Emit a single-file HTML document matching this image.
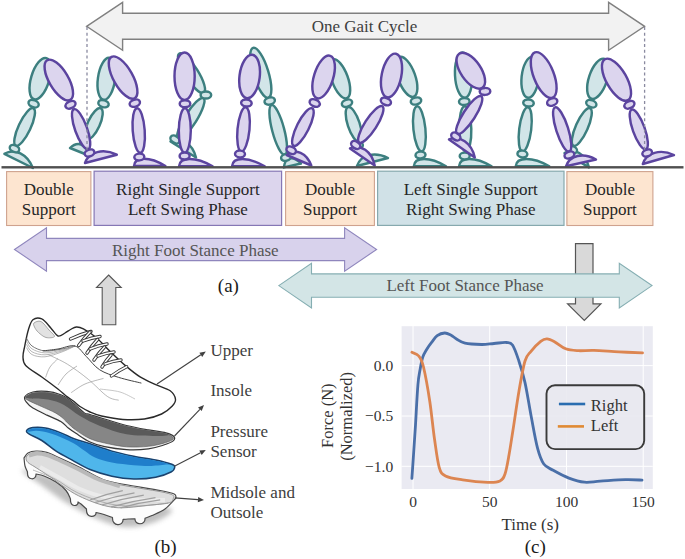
<!DOCTYPE html>
<html><head><meta charset="utf-8">
<style>
html,body{margin:0;padding:0;background:#fff;width:685px;height:559px;overflow:hidden}
svg{display:block;position:absolute;left:0;top:0}
text{font-family:"Liberation Serif",serif}
</style></head>
<body>
<svg width="685" height="559" viewBox="0 0 685 559">
<rect x="0" y="0" width="685" height="559" fill="#ffffff"/>
<path d="M86.6,26.3 L122.6,2.3000000000000007 L122.6,13.3 L608.6,13.3 L608.6,2.3000000000000007 L644.6,26.3 L608.6,50.3 L608.6,39.3 L122.6,39.3 L122.6,50.3 Z" fill="#f2f2f2" stroke="#808080" stroke-width="1.4" stroke-linejoin="miter"/>
<text x="364.5" y="31.8" font-size="17" fill="#404040" text-anchor="middle">One Gait Cycle</text>
<path d="M4.4,153.8 C14.5,147.7 27.4,154.1 32.9,168.0 Z" fill="#d2e5e8" stroke="#3c7f7f" stroke-width="2.45" stroke-linejoin="round"/>
<ellipse cx="40.2" cy="78.7" rx="21.5" ry="9.1" transform="rotate(106.7 40.2 78.7)" fill="#d2e5e8" stroke="#3c7f7f" stroke-width="2.45"/>
<ellipse cx="24.6" cy="127.0" rx="20.7" ry="6.0" transform="rotate(115.2 24.6 127.0)" fill="#d2e5e8" stroke="#3c7f7f" stroke-width="2.45"/>
<ellipse cx="33.6" cy="103.7" rx="5.3" ry="3.5" transform="rotate(201.0 33.6 103.7)" fill="#d2e5e8" stroke="#3c7f7f" stroke-width="2.45"/>
<ellipse cx="14.5" cy="148.6" rx="5.0" ry="3.4" transform="rotate(205.2 14.5 148.6)" fill="#d2e5e8" stroke="#3c7f7f" stroke-width="2.45"/>
<path d="M70.0,148.0 C77.7,140.3 86.7,143.9 90.0,156.0 Z" fill="#d2e5e8" stroke="#3c7f7f" stroke-width="2.45" stroke-linejoin="round"/>
<ellipse cx="106.5" cy="78.8" rx="21.2" ry="8.6" transform="rotate(98.0 106.5 78.8)" fill="#d2e5e8" stroke="#3c7f7f" stroke-width="2.45"/>
<ellipse cx="93.8" cy="123.8" rx="17.0" ry="6.0" transform="rotate(114.4 93.8 123.8)" fill="#d2e5e8" stroke="#3c7f7f" stroke-width="2.45"/>
<ellipse cx="103.5" cy="103.7" rx="5.3" ry="3.5" transform="rotate(196.2 103.5 103.7)" fill="#d2e5e8" stroke="#3c7f7f" stroke-width="2.45"/>
<ellipse cx="85.0" cy="143.0" rx="5.0" ry="3.4" transform="rotate(204.4 85.0 143.0)" fill="#d2e5e8" stroke="#3c7f7f" stroke-width="2.45"/>
<path d="M170.5,141.5 C180.9,136.3 192.4,143.5 196.0,157.5 Z" fill="#d2e5e8" stroke="#3c7f7f" stroke-width="2.45" stroke-linejoin="round"/>
<ellipse cx="191.5" cy="73.2" rx="23.1" ry="6.6" transform="rotate(57.7 191.5 73.2)" fill="#d2e5e8" stroke="#3c7f7f" stroke-width="2.45"/>
<ellipse cx="190.8" cy="118.5" rx="23.9" ry="6.0" transform="rotate(122.0 190.8 118.5)" fill="#d2e5e8" stroke="#3c7f7f" stroke-width="2.45"/>
<ellipse cx="205.9" cy="95.0" rx="5.3" ry="3.5" transform="rotate(179.9 205.9 95.0)" fill="#d2e5e8" stroke="#3c7f7f" stroke-width="2.45"/>
<ellipse cx="175.0" cy="139.5" rx="5.0" ry="3.4" transform="rotate(212.0 175.0 139.5)" fill="#d2e5e8" stroke="#3c7f7f" stroke-width="2.45"/>
<path d="M283.8,167.4 C285.0,156.9 292.8,155.1 301.0,163.5 Z" fill="#d2e5e8" stroke="#3c7f7f" stroke-width="2.45" stroke-linejoin="round"/>
<ellipse cx="260.8" cy="72.8" rx="26.1" ry="7.6" transform="rotate(72.9 260.8 72.8)" fill="#d2e5e8" stroke="#3c7f7f" stroke-width="2.45"/>
<ellipse cx="278.2" cy="129.9" rx="25.7" ry="6.0" transform="rotate(75.1 278.2 129.9)" fill="#d2e5e8" stroke="#3c7f7f" stroke-width="2.45"/>
<ellipse cx="269.7" cy="101.0" rx="5.3" ry="3.5" transform="rotate(164.0 269.7 101.0)" fill="#d2e5e8" stroke="#3c7f7f" stroke-width="2.45"/>
<ellipse cx="286.0" cy="157.4" rx="5.0" ry="3.4" transform="rotate(165.1 286.0 157.4)" fill="#d2e5e8" stroke="#3c7f7f" stroke-width="2.45"/>
<path d="M357.0,166.0 C360.7,154.7 374.7,151.1 388.0,158.0 Z" fill="#d2e5e8" stroke="#3c7f7f" stroke-width="2.45" stroke-linejoin="round"/>
<ellipse cx="339.8" cy="78.8" rx="20.7" ry="8.1" transform="rotate(70.0 339.8 78.8)" fill="#d2e5e8" stroke="#3c7f7f" stroke-width="2.45"/>
<ellipse cx="353.7" cy="124.3" rx="18.0" ry="6.0" transform="rotate(71.8 353.7 124.3)" fill="#d2e5e8" stroke="#3c7f7f" stroke-width="2.45"/>
<ellipse cx="347.0" cy="103.2" rx="5.3" ry="3.5" transform="rotate(160.9 347.0 103.2)" fill="#d2e5e8" stroke="#3c7f7f" stroke-width="2.45"/>
<ellipse cx="358.0" cy="146.0" rx="5.0" ry="3.4" transform="rotate(161.8 358.0 146.0)" fill="#d2e5e8" stroke="#3c7f7f" stroke-width="2.45"/>
<path d="M413.8,166.3 C414.4,156.6 429.9,156.6 446.0,166.3 Z" fill="#d2e5e8" stroke="#3c7f7f" stroke-width="2.45" stroke-linejoin="round"/>
<ellipse cx="406.6" cy="76.8" rx="21.1" ry="8.6" transform="rotate(70.2 406.6 76.8)" fill="#d2e5e8" stroke="#3c7f7f" stroke-width="2.45"/>
<ellipse cx="419.4" cy="128.9" rx="22.7" ry="6.0" transform="rotate(84.1 419.4 128.9)" fill="#d2e5e8" stroke="#3c7f7f" stroke-width="2.45"/>
<ellipse cx="416.0" cy="101.0" rx="5.3" ry="3.5" transform="rotate(167.2 416.0 101.0)" fill="#d2e5e8" stroke="#3c7f7f" stroke-width="2.45"/>
<ellipse cx="420.5" cy="155.0" rx="5.0" ry="3.4" transform="rotate(174.1 420.5 155.0)" fill="#d2e5e8" stroke="#3c7f7f" stroke-width="2.45"/>
<path d="M459.0,166.3 C459.7,156.6 475.3,156.6 491.6,166.3 Z" fill="#d2e5e8" stroke="#3c7f7f" stroke-width="2.45" stroke-linejoin="round"/>
<ellipse cx="463.6" cy="75.1" rx="22.6" ry="8.6" transform="rotate(87.2 463.6 75.1)" fill="#d2e5e8" stroke="#3c7f7f" stroke-width="2.45"/>
<ellipse cx="465.3" cy="128.9" rx="22.6" ry="6.0" transform="rotate(88.5 465.3 128.9)" fill="#d2e5e8" stroke="#3c7f7f" stroke-width="2.45"/>
<ellipse cx="464.3" cy="101.5" rx="5.3" ry="3.5" transform="rotate(177.9 464.3 101.5)" fill="#d2e5e8" stroke="#3c7f7f" stroke-width="2.45"/>
<ellipse cx="464.7" cy="156.0" rx="5.0" ry="3.4" transform="rotate(178.5 464.7 156.0)" fill="#d2e5e8" stroke="#3c7f7f" stroke-width="2.45"/>
<path d="M515.7,166.3 C516.4,156.6 532.5,156.6 549.3,166.3 Z" fill="#d2e5e8" stroke="#3c7f7f" stroke-width="2.45" stroke-linejoin="round"/>
<ellipse cx="530.2" cy="77.3" rx="20.5" ry="8.6" transform="rotate(96.2 530.2 77.3)" fill="#d2e5e8" stroke="#3c7f7f" stroke-width="2.45"/>
<ellipse cx="525.2" cy="129.4" rx="22.3" ry="6.0" transform="rotate(97.1 525.2 129.4)" fill="#d2e5e8" stroke="#3c7f7f" stroke-width="2.45"/>
<ellipse cx="528.5" cy="103.0" rx="5.3" ry="3.5" transform="rotate(186.7 528.5 103.0)" fill="#d2e5e8" stroke="#3c7f7f" stroke-width="2.45"/>
<ellipse cx="522.4" cy="154.0" rx="5.0" ry="3.4" transform="rotate(187.1 522.4 154.0)" fill="#d2e5e8" stroke="#3c7f7f" stroke-width="2.45"/>
<path d="M564.5,153.0 C574.5,147.3 585.5,153.8 589.0,167.4 Z" fill="#d2e5e8" stroke="#3c7f7f" stroke-width="2.45" stroke-linejoin="round"/>
<ellipse cx="598.0" cy="78.8" rx="21.0" ry="9.1" transform="rotate(108.3 598.0 78.8)" fill="#d2e5e8" stroke="#3c7f7f" stroke-width="2.45"/>
<ellipse cx="581.8" cy="127.0" rx="20.5" ry="6.0" transform="rotate(113.9 581.8 127.0)" fill="#d2e5e8" stroke="#3c7f7f" stroke-width="2.45"/>
<ellipse cx="591.3" cy="103.7" rx="5.3" ry="3.5" transform="rotate(201.1 591.3 103.7)" fill="#d2e5e8" stroke="#3c7f7f" stroke-width="2.45"/>
<ellipse cx="572.3" cy="149.6" rx="5.0" ry="3.4" transform="rotate(203.9 572.3 149.6)" fill="#d2e5e8" stroke="#3c7f7f" stroke-width="2.45"/>
<path d="M85.0,163.0 C88.8,151.7 103.2,148.0 116.8,154.7 Z" fill="#dcd5ee" stroke="#5b449f" stroke-width="2.45" stroke-linejoin="round"/>
<ellipse cx="58.8" cy="80.0" rx="22.9" ry="9.6" transform="rotate(59.6 58.8 80.0)" fill="#dcd5ee" stroke="#5b449f" stroke-width="2.45"/>
<ellipse cx="81.1" cy="129.2" rx="21.2" ry="6.0" transform="rotate(70.2 81.1 129.2)" fill="#dcd5ee" stroke="#5b449f" stroke-width="2.45"/>
<ellipse cx="70.5" cy="104.8" rx="5.3" ry="3.5" transform="rotate(154.9 70.5 104.8)" fill="#dcd5ee" stroke="#5b449f" stroke-width="2.45"/>
<ellipse cx="89.5" cy="153.0" rx="5.0" ry="3.4" transform="rotate(160.2 89.5 153.0)" fill="#dcd5ee" stroke="#5b449f" stroke-width="2.45"/>
<path d="M134.0,166.0 C134.6,156.3 149.7,156.3 165.4,166.0 Z" fill="#dcd5ee" stroke="#5b449f" stroke-width="2.45" stroke-linejoin="round"/>
<ellipse cx="123.1" cy="77.6" rx="23.7" ry="9.6" transform="rotate(60.7 123.1 77.6)" fill="#dcd5ee" stroke="#5b449f" stroke-width="2.45"/>
<ellipse cx="138.7" cy="130.5" rx="22.3" ry="6.0" transform="rotate(85.7 138.7 130.5)" fill="#dcd5ee" stroke="#5b449f" stroke-width="2.45"/>
<ellipse cx="134.8" cy="103.2" rx="5.3" ry="3.5" transform="rotate(163.2 134.8 103.2)" fill="#dcd5ee" stroke="#5b449f" stroke-width="2.45"/>
<ellipse cx="139.3" cy="157.0" rx="5.0" ry="3.4" transform="rotate(175.7 139.3 157.0)" fill="#dcd5ee" stroke="#5b449f" stroke-width="2.45"/>
<path d="M179.0,166.3 C179.7,156.6 195.8,156.6 212.6,166.3 Z" fill="#dcd5ee" stroke="#5b449f" stroke-width="2.45" stroke-linejoin="round"/>
<ellipse cx="184.6" cy="76.2" rx="23.7" ry="10.1" transform="rotate(90.0 184.6 76.2)" fill="#dcd5ee" stroke="#5b449f" stroke-width="2.45"/>
<ellipse cx="184.8" cy="130.5" rx="22.2" ry="6.0" transform="rotate(90.5 184.8 130.5)" fill="#dcd5ee" stroke="#5b449f" stroke-width="2.45"/>
<ellipse cx="185.0" cy="103.7" rx="5.3" ry="3.5" transform="rotate(180.3 185.0 103.7)" fill="#dcd5ee" stroke="#5b449f" stroke-width="2.45"/>
<ellipse cx="184.6" cy="156.0" rx="5.0" ry="3.4" transform="rotate(180.5 184.6 156.0)" fill="#dcd5ee" stroke="#5b449f" stroke-width="2.45"/>
<path d="M232.0,166.3 C232.7,156.6 248.3,156.6 264.7,166.3 Z" fill="#dcd5ee" stroke="#5b449f" stroke-width="2.45" stroke-linejoin="round"/>
<ellipse cx="249.6" cy="76.5" rx="21.9" ry="10.1" transform="rotate(97.3 249.6 76.5)" fill="#dcd5ee" stroke="#5b449f" stroke-width="2.45"/>
<ellipse cx="243.5" cy="129.4" rx="22.2" ry="6.0" transform="rotate(95.6 243.5 129.4)" fill="#dcd5ee" stroke="#5b449f" stroke-width="2.45"/>
<ellipse cx="246.4" cy="103.0" rx="5.3" ry="3.5" transform="rotate(186.4 246.4 103.0)" fill="#dcd5ee" stroke="#5b449f" stroke-width="2.45"/>
<ellipse cx="240.0" cy="154.0" rx="5.0" ry="3.4" transform="rotate(185.6 240.0 154.0)" fill="#dcd5ee" stroke="#5b449f" stroke-width="2.45"/>
<path d="M286.7,155.0 C295.5,147.9 306.6,152.7 311.3,165.5 Z" fill="#dcd5ee" stroke="#5b449f" stroke-width="2.45" stroke-linejoin="round"/>
<ellipse cx="323.6" cy="77.0" rx="22.2" ry="9.6" transform="rotate(107.3 323.6 77.0)" fill="#dcd5ee" stroke="#5b449f" stroke-width="2.45"/>
<ellipse cx="302.9" cy="127.0" rx="20.9" ry="6.0" transform="rotate(116.6 302.9 127.0)" fill="#dcd5ee" stroke="#5b449f" stroke-width="2.45"/>
<ellipse cx="314.7" cy="103.0" rx="5.3" ry="3.5" transform="rotate(202.0 314.7 103.0)" fill="#dcd5ee" stroke="#5b449f" stroke-width="2.45"/>
<ellipse cx="291.2" cy="150.2" rx="5.0" ry="3.4" transform="rotate(206.6 291.2 150.2)" fill="#dcd5ee" stroke="#5b449f" stroke-width="2.45"/>
<path d="M350.0,148.4 C360.6,143.6 371.7,151.3 374.7,165.5 Z" fill="#dcd5ee" stroke="#5b449f" stroke-width="2.45" stroke-linejoin="round"/>
<ellipse cx="391.5" cy="75.5" rx="22.2" ry="9.8" transform="rotate(101.5 391.5 75.5)" fill="#dcd5ee" stroke="#5b449f" stroke-width="2.45"/>
<ellipse cx="370.8" cy="124.4" rx="21.5" ry="6.0" transform="rotate(122.6 370.8 124.4)" fill="#dcd5ee" stroke="#5b449f" stroke-width="2.45"/>
<ellipse cx="385.9" cy="101.5" rx="5.3" ry="3.5" transform="rotate(202.0 385.9 101.5)" fill="#dcd5ee" stroke="#5b449f" stroke-width="2.45"/>
<ellipse cx="355.7" cy="145.0" rx="5.0" ry="3.4" transform="rotate(212.6 355.7 145.0)" fill="#dcd5ee" stroke="#5b449f" stroke-width="2.45"/>
<path d="M449.0,139.5 C459.8,134.9 471.5,142.9 474.8,157.4 Z" fill="#dcd5ee" stroke="#5b449f" stroke-width="2.45" stroke-linejoin="round"/>
<ellipse cx="470.8" cy="70.7" rx="20.6" ry="10.1" transform="rotate(55.8 470.8 70.7)" fill="#dcd5ee" stroke="#5b449f" stroke-width="2.45"/>
<ellipse cx="469.2" cy="115.0" rx="22.3" ry="6.0" transform="rotate(122.8 469.2 115.0)" fill="#dcd5ee" stroke="#5b449f" stroke-width="2.45"/>
<ellipse cx="485.0" cy="91.4" rx="5.3" ry="3.5" transform="rotate(179.3 485.0 91.4)" fill="#dcd5ee" stroke="#5b449f" stroke-width="2.45"/>
<ellipse cx="455.8" cy="136.5" rx="5.0" ry="3.4" transform="rotate(212.8 455.8 136.5)" fill="#dcd5ee" stroke="#5b449f" stroke-width="2.45"/>
<path d="M566.0,166.3 C569.8,155.2 583.3,152.2 596.0,159.5 Z" fill="#dcd5ee" stroke="#5b449f" stroke-width="2.45" stroke-linejoin="round"/>
<ellipse cx="543.7" cy="75.1" rx="24.3" ry="10.1" transform="rotate(68.7 543.7 75.1)" fill="#dcd5ee" stroke="#5b449f" stroke-width="2.45"/>
<ellipse cx="562.2" cy="129.4" rx="23.2" ry="6.0" transform="rotate(72.2 562.2 129.4)" fill="#dcd5ee" stroke="#5b449f" stroke-width="2.45"/>
<ellipse cx="552.2" cy="102.0" rx="5.3" ry="3.5" transform="rotate(160.4 552.2 102.0)" fill="#dcd5ee" stroke="#5b449f" stroke-width="2.45"/>
<ellipse cx="569.4" cy="155.0" rx="5.0" ry="3.4" transform="rotate(162.2 569.4 155.0)" fill="#dcd5ee" stroke="#5b449f" stroke-width="2.45"/>
<path d="M642.8,164.0 C646.3,152.6 660.3,148.6 674.0,155.0 Z" fill="#dcd5ee" stroke="#5b449f" stroke-width="2.45" stroke-linejoin="round"/>
<ellipse cx="616.5" cy="79.7" rx="23.5" ry="10.1" transform="rotate(60.4 616.5 79.7)" fill="#dcd5ee" stroke="#5b449f" stroke-width="2.45"/>
<ellipse cx="638.8" cy="129.4" rx="21.1" ry="6.0" transform="rotate(70.3 638.8 129.4)" fill="#dcd5ee" stroke="#5b449f" stroke-width="2.45"/>
<ellipse cx="629.4" cy="104.8" rx="5.3" ry="3.5" transform="rotate(155.3 629.4 104.8)" fill="#dcd5ee" stroke="#5b449f" stroke-width="2.45"/>
<ellipse cx="647.2" cy="153.0" rx="5.0" ry="3.4" transform="rotate(160.3 647.2 153.0)" fill="#dcd5ee" stroke="#5b449f" stroke-width="2.45"/>
<line x1="87" y1="27" x2="87" y2="150" stroke="#8a8aa0" stroke-width="1.3" stroke-dasharray="3 2.7"/>
<line x1="644.6" y1="27" x2="644.6" y2="150" stroke="#8a8aa0" stroke-width="1.3" stroke-dasharray="3 2.7"/>
<rect x="1.5" y="166.1" width="682" height="2.4" fill="#505050"/>
<g font-size="17" fill="#262626" text-anchor="middle">
<rect x="6.6" y="171.6" width="84.3" height="53.9" fill="#fde5d0" stroke="#cfa28e" stroke-width="1.1"/>
<text x="48.75" y="195.2">Double</text><text x="48.75" y="214.7">Support</text>
<rect x="94.1" y="171.2" width="187.5" height="54.2" fill="#dcd5ed" stroke="#8577b5" stroke-width="1.2"/>
<text x="187.9" y="195.2">Right Single Support</text><text x="187.9" y="215.2">Left Swing Phase</text>
<rect x="285.6" y="171.6" width="88.8" height="53.9" fill="#fde5d0" stroke="#cfa28e" stroke-width="1.1"/>
<text x="330" y="195.2">Double</text><text x="330" y="214.7">Support</text>
<rect x="377.6" y="171.2" width="186.4" height="54.2" fill="#d0e1e7" stroke="#86a9ae" stroke-width="1.2"/>
<text x="470.8" y="195.2">Left Single Support</text><text x="470.8" y="215.2">Right Swing Phase</text>
<rect x="566.9" y="171.6" width="86" height="53.9" fill="#fde5d0" stroke="#cfa28e" stroke-width="1.1"/>
<text x="609.9" y="195.2">Double</text><text x="609.9" y="214.7">Support</text>
</g>
<path d="M575.5,243.7 L593,243.7 L593,303.9 L600.9,303.9 L584.3,320.5 L567.6,303.9 L575.5,303.9 Z" fill="#d9d9d9" stroke="#555" stroke-width="1.2"/>
<path d="M14.5,249.5 L46.5,227.9 L46.5,238.4 L344.6,238.4 L344.6,227.9 L376.6,249.5 L344.6,271.1 L344.6,260.6 L46.5,260.6 L46.5,271.1 Z" fill="#d8d2ec" stroke="#8f86bd" stroke-width="1.1" stroke-linejoin="miter"/>
<path d="M278.8,285.6 L311.5,263.20000000000005 L311.5,273.90000000000003 L619.3,273.90000000000003 L619.3,263.20000000000005 L652,285.6 L619.3,308.0 L619.3,297.3 L311.5,297.3 L311.5,308.0 Z" fill="#d3e5e6" stroke="#85aeb2" stroke-width="1.1" stroke-linejoin="miter"/>
<text x="195.3" y="255.6" font-size="17" fill="#555" text-anchor="middle">Right Foot Stance Phase</text>
<text x="465" y="291.3" font-size="17" fill="#555" text-anchor="middle">Left Foot Stance Phase</text>
<text x="228.4" y="291.5" font-size="19" fill="#1a1a1a" text-anchor="middle">(a)</text>
<path d="M108.6,275 L121.2,287.5 L115.8,287.5 L115.8,324.7 L102.2,324.7 L102.2,287.5 L96.5,287.5 Z" fill="#d9d9d9" stroke="#555" stroke-width="1.1"/>
<rect x="401.6" y="326.2" width="251.2" height="162.8" fill="#eaeaf2"/>
<line x1="413.0" y1="326" x2="413.0" y2="489" stroke="#fff" stroke-width="1"/>
<line x1="489.7" y1="326" x2="489.7" y2="489" stroke="#fff" stroke-width="1"/>
<line x1="566.5" y1="326" x2="566.5" y2="489" stroke="#fff" stroke-width="1"/>
<line x1="643.2" y1="326" x2="643.2" y2="489" stroke="#fff" stroke-width="1"/>
<line x1="401.4" y1="365.6" x2="652.8" y2="365.6" stroke="#fff" stroke-width="1"/>
<line x1="401.4" y1="416.0" x2="652.8" y2="416.0" stroke="#fff" stroke-width="1"/>
<line x1="401.4" y1="466.3" x2="652.8" y2="466.3" stroke="#fff" stroke-width="1"/>
<path d="M411.9,478.3 C412.2,474.4 412.9,463.9 413.5,455.0 C414.1,446.1 414.8,436.7 415.5,425.0 C416.2,413.3 417.1,394.2 417.9,385.0 C418.6,375.8 419.2,374.6 420.0,370.0 C420.8,365.4 421.6,360.6 422.7,357.2 C423.8,353.8 425.0,352.2 426.5,349.7 C428.0,347.2 430.0,344.5 431.8,342.2 C433.6,339.9 435.1,337.2 437.2,335.7 C439.3,334.2 442.4,333.1 444.7,333.0 C447.0,332.9 449.1,334.2 451.1,335.2 C453.1,336.2 454.2,337.7 456.5,339.0 C458.8,340.3 460.8,342.3 465.0,343.2 C469.2,344.1 476.7,344.4 481.5,344.5 C486.3,344.6 489.9,343.8 494.0,343.5 C498.1,343.2 503.2,342.2 506.3,342.5 C509.4,342.8 510.4,342.0 512.5,345.0 C514.6,348.0 516.7,354.4 518.8,360.7 C520.9,367.0 522.9,373.2 525.0,382.6 C527.1,392.0 529.2,406.0 531.3,417.0 C533.4,428.0 535.5,440.6 537.6,448.4 C539.7,456.2 541.2,460.4 543.8,464.0 C546.4,467.6 549.0,467.9 553.2,470.3 C557.4,472.7 563.7,476.1 568.9,478.1 C574.1,480.1 579.3,481.7 584.5,482.2 C589.7,482.7 593.4,481.6 600.2,481.2 C607.0,480.8 618.2,479.9 625.2,479.7 C632.2,479.5 639.2,480.0 642.0,480.1" fill="none" stroke="#4a6fa8" stroke-width="2.8" stroke-linecap="round" stroke-linejoin="round"/>
<path d="M411.9,352.3 C413.0,352.9 416.9,353.6 418.8,356.0 C420.7,358.4 421.7,359.4 423.5,367.0 C425.3,374.6 428.0,389.5 429.8,401.5 C431.6,413.5 432.9,428.0 434.5,439.0 C436.1,450.0 437.4,461.1 439.2,467.3 C441.0,473.5 441.6,473.9 445.5,476.0 C449.4,478.1 455.6,478.8 462.7,479.9 C469.8,481.0 481.6,482.2 487.8,482.4 C494.0,482.6 497.1,482.4 500.0,481.0 C502.9,479.6 503.5,478.3 505.0,474.0 C506.5,469.7 507.7,462.3 509.0,455.0 C510.3,447.7 511.3,440.7 513.0,430.0 C514.7,419.3 517.0,402.5 519.0,391.0 C521.0,379.5 523.0,367.6 525.0,361.0 C527.0,354.4 528.4,354.6 531.0,351.3 C533.6,348.0 538.0,343.4 540.7,341.3 C543.4,339.2 544.6,338.7 547.0,338.8 C549.4,338.9 551.7,340.2 554.8,341.9 C557.9,343.6 561.8,347.3 565.7,348.8 C569.6,350.3 573.6,350.4 578.3,350.7 C583.0,351.0 587.1,350.2 593.9,350.4 C600.7,350.6 610.9,351.5 619.0,351.9 C627.1,352.3 638.6,352.7 642.5,352.9" fill="none" stroke="#dc8551" stroke-width="2.8" stroke-linecap="round" stroke-linejoin="round"/>
<rect x="546.5" y="385.3" width="97.7" height="63.8" rx="8.5" fill="#e9e9ef" fill-opacity="0.9" stroke="#3a3a3a" stroke-width="1.9"/>
<line x1="558.9" y1="404" x2="585.2" y2="404" stroke="#2a6db0" stroke-width="2.6"/>
<line x1="557.8" y1="426.4" x2="584" y2="426.4" stroke="#e08a33" stroke-width="2.6"/>
<g font-size="16.5" fill="#333"><text x="590.8" y="411.2">Right</text><text x="590.8" y="431.3">Left</text></g>
<g font-size="15.5" fill="#333" text-anchor="end">
<text x="393.2" y="370.9">0.0</text>
<text x="393.2" y="421.3">−0.5</text>
<text x="393.2" y="471.6">−1.0</text>
</g><g font-size="15.5" fill="#333" text-anchor="middle">
<text x="413.0" y="506.7">0</text>
<text x="489.7" y="506.7">50</text>
<text x="566.5" y="506.7">100</text>
<text x="643.2" y="506.7">150</text>
</g>
<text x="530.3" y="529.5" font-size="17" fill="#333" text-anchor="middle">Time (s)</text>
<text x="535.3" y="552.8" font-size="19" fill="#1a1a1a" text-anchor="middle">(c)</text>
<text transform="translate(333,415.7) rotate(-90)" font-size="16.5" fill="#333" text-anchor="middle">Force (N)</text>
<text transform="translate(352.3,416.4) rotate(-90)" font-size="16.5" fill="#333" text-anchor="middle">(Normalized)</text>
<defs><filter id="blur" x="-30%" y="-60%" width="160%" height="220%"><feGaussianBlur stdDeviation="2.6"/></filter></defs>
<path d="M22.0,470.0 C19.5,471.0 32.8,478.7 40.0,484.0 C47.2,489.3 55.8,496.3 65.0,502.0 C74.2,507.7 85.0,513.8 95.0,518.0 C105.0,522.2 115.0,526.3 125.0,527.0 C135.0,527.7 147.2,524.8 155.0,522.0 C162.8,519.2 172.8,512.8 172.0,510.0 C171.2,507.2 162.0,507.5 150.0,505.0 C138.0,502.5 115.8,499.5 100.0,495.0 C84.2,490.5 68.0,482.2 55.0,478.0 C42.0,473.8 24.5,469.0 22.0,470.0 Z" fill="#b4b4b4" opacity="0.85" filter="url(#blur)"/>
<path d="M32.9,319.8 C35.1,318.0 38.8,317.5 41.8,318.9 C44.8,320.2 48.1,325.0 50.8,327.9 C53.5,330.8 55.6,335.1 58.0,336.0 C60.4,336.9 62.9,334.1 65.0,333.0 C67.1,331.9 68.6,330.5 70.5,329.5 C72.4,328.5 74.2,327.1 76.4,327.0 C78.6,326.9 80.1,327.1 83.4,328.8 C86.7,330.6 91.7,333.7 96.2,337.5 C100.7,341.3 105.3,346.8 110.2,351.5 C115.1,356.2 120.4,361.4 125.4,365.6 C130.4,369.8 135.2,373.8 140.1,376.9 C145.0,380.0 150.1,382.1 155.1,384.4 C160.1,386.7 166.8,388.3 170.2,390.8 C173.6,393.3 175.2,396.9 175.5,399.4 C175.8,401.9 174.6,403.5 172.3,405.9 C170.0,408.3 166.2,411.8 161.6,414.0 C156.9,416.2 150.8,418.1 144.4,419.0 C138.0,419.9 130.1,420.0 122.9,419.5 C115.8,419.0 107.0,417.2 101.5,416.0 C96.0,414.8 93.6,413.6 90.0,412.0 C86.4,410.4 82.7,408.2 80.0,406.5 C77.3,404.8 76.4,403.3 74.0,401.5 C71.6,399.7 68.5,397.9 65.8,395.8 C63.1,393.7 61.9,392.1 57.9,389.0 C53.9,385.9 47.2,380.9 41.8,377.0 C36.4,373.1 28.8,368.9 25.7,365.5 C22.6,362.1 23.1,359.8 23.0,356.5 C22.9,353.2 23.9,350.3 24.8,345.8 C25.7,341.3 27.0,334.0 28.4,329.7 C29.8,325.4 30.7,321.6 32.9,319.8 Z" fill="#ffffff" stroke="#2a2a2a" stroke-width="1.4"/>
<path d="M34.0,323.0 C35.1,322.1 38.5,320.3 41.0,321.5 C43.5,322.7 46.8,327.5 49.0,330.0 C51.2,332.5 55.0,335.2 54.5,336.5 C54.0,337.8 48.7,338.2 46.0,337.5 C43.3,336.8 40.4,334.2 38.5,332.5 C36.6,330.8 35.2,328.6 34.5,327.0 C33.8,325.4 32.9,323.9 34.0,323.0 Z" fill="#e2e2e2" stroke="#888" stroke-width="0.7"/>
<path d="M26.5,338.0 C27.4,339.3 28.9,343.8 32.0,346.0 C35.1,348.2 40.0,350.5 45.0,351.0 C50.0,351.5 57.0,349.8 62.0,349.0 C67.0,348.2 72.8,346.5 75.0,346.0" fill="none" stroke="#666" stroke-width="0.9"/>
<path d="M26.5,341.2 C27.4,342.5 28.9,346.9 32.0,348.9 C35.1,350.8 40.0,352.7 45.0,352.9 C50.0,353.1 57.0,351.1 62.0,350.0 C67.0,348.8 72.8,346.7 75.0,346.0" fill="none" stroke="#9a9a9a" stroke-width="0.7"/>
<path d="M26.5,344.4 C27.4,345.6 28.9,350.0 32.0,351.8 C35.1,353.5 40.0,355.0 45.0,354.8 C50.0,354.7 57.0,352.4 62.0,350.9 C67.0,349.4 72.8,346.8 75.0,346.0" fill="none" stroke="#9a9a9a" stroke-width="0.7"/>
<path d="M26.5,347.6 C27.4,348.8 28.9,353.1 32.0,354.6 C35.1,356.2 40.0,357.2 45.0,356.8 C50.0,356.3 57.0,353.7 62.0,351.9 C67.0,350.1 72.8,347.0 75.0,346.0" fill="none" stroke="#9a9a9a" stroke-width="0.7"/>
<path d="M42.8,350.9 C45.3,350.6 52.6,349.8 58.0,349.0 C63.4,348.2 70.3,344.7 75.0,346.0 C79.7,347.3 82.3,352.6 86.4,356.6 C90.5,360.6 94.3,366.3 99.7,369.8 C105.1,373.3 111.8,375.2 118.7,377.4 C125.7,379.6 137.6,382.2 141.4,383.1" fill="none" stroke="#444" stroke-width="1.0"/>
<path d="M48.5,354.7 C51.6,356.3 60.8,360.1 67.4,364.2 C74.0,368.3 81.7,373.9 88.3,379.3 C94.9,384.7 102.2,392.9 107.3,396.4 C112.4,399.9 116.8,399.6 118.7,400.2" fill="none" stroke="#999" stroke-width="0.7"/>
<path d="M45.6,377.4 C46.3,375.7 47.9,370.1 50.0,367.0 C52.1,363.9 56.7,359.9 58.0,358.5" fill="none" stroke="#9a9a9a" stroke-width="0.7"/>
<path d="M58.0,385.0 C59.3,383.2 62.8,377.2 66.0,374.0 C69.2,370.8 75.2,367.3 77.0,366.0" fill="none" stroke="#9a9a9a" stroke-width="0.7"/>
<path d="M71.2,392.6 C73.5,391.2 79.6,386.4 85.0,384.0 C90.4,381.6 100.4,379.3 103.5,378.4" fill="none" stroke="#9a9a9a" stroke-width="0.7"/>
<path d="M100.0,389.0 C103.3,389.5 114.2,390.3 120.0,392.0 C125.8,393.7 132.5,397.8 135.0,399.0" fill="none" stroke="#b0b0b0" stroke-width="0.7"/>
<path d="M70.5,339 Q80.8,334.1 91,331.5" fill="none" stroke="#353535" stroke-width="3.4" stroke-linecap="round"/>
<path d="M70.5,339 Q80.8,334.1 91,331.5" fill="none" stroke="#fff" stroke-width="1.6" stroke-linecap="round"/>
<path d="M78.7,345.5 Q84.3,337.6 90,332" fill="none" stroke="#353535" stroke-width="3.4" stroke-linecap="round"/>
<path d="M78.7,345.5 Q84.3,337.6 90,332" fill="none" stroke="#fff" stroke-width="1.6" stroke-linecap="round"/>
<path d="M83,341 Q91.5,337.6 100,336.5" fill="none" stroke="#353535" stroke-width="3.4" stroke-linecap="round"/>
<path d="M83,341 Q91.5,337.6 100,336.5" fill="none" stroke="#fff" stroke-width="1.6" stroke-linecap="round"/>
<path d="M87,353 Q92.2,345.1 97.5,339.5" fill="none" stroke="#353535" stroke-width="3.4" stroke-linecap="round"/>
<path d="M87,353 Q92.2,345.1 97.5,339.5" fill="none" stroke="#fff" stroke-width="1.6" stroke-linecap="round"/>
<path d="M90,349 Q98.5,345.3 107,344" fill="none" stroke="#353535" stroke-width="3.4" stroke-linecap="round"/>
<path d="M90,349 Q98.5,345.3 107,344" fill="none" stroke="#fff" stroke-width="1.6" stroke-linecap="round"/>
<path d="M94,360 Q99.2,352.3 104.5,347" fill="none" stroke="#353535" stroke-width="3.4" stroke-linecap="round"/>
<path d="M94,360 Q99.2,352.3 104.5,347" fill="none" stroke="#fff" stroke-width="1.6" stroke-linecap="round"/>
<path d="M98,356 Q106.0,352.8 114,352" fill="none" stroke="#353535" stroke-width="3.4" stroke-linecap="round"/>
<path d="M98,356 Q106.0,352.8 114,352" fill="none" stroke="#fff" stroke-width="1.6" stroke-linecap="round"/>
<path d="M102,367 Q106.5,359.8 111,355" fill="none" stroke="#353535" stroke-width="3.4" stroke-linecap="round"/>
<path d="M102,367 Q106.5,359.8 111,355" fill="none" stroke="#fff" stroke-width="1.6" stroke-linecap="round"/>
<path d="M105,364 Q113.0,360.8 121,360" fill="none" stroke="#353535" stroke-width="3.4" stroke-linecap="round"/>
<path d="M105,364 Q113.0,360.8 121,360" fill="none" stroke="#fff" stroke-width="1.6" stroke-linecap="round"/>
<path d="M111.4,376 Q119.0,370.2 126.6,366.7" fill="none" stroke="#353535" stroke-width="3.4" stroke-linecap="round"/>
<path d="M111.4,376 Q119.0,370.2 126.6,366.7" fill="none" stroke="#fff" stroke-width="1.6" stroke-linecap="round"/>
<path d="M24.8,396.8 C25.9,395.1 29.2,392.9 32.9,392.0 C36.6,391.1 42.2,390.9 46.9,391.4 C51.5,391.8 57.2,393.4 60.8,394.7 C64.4,396.0 65.8,397.2 68.3,399.0 C70.8,400.8 73.2,403.1 75.9,405.4 C78.6,407.7 82.1,411.4 84.4,412.9 C86.8,414.4 86.6,413.5 90.0,414.5 C93.4,415.5 98.5,417.2 104.6,419.0 C110.7,420.8 119.2,423.7 126.5,425.5 C133.8,427.3 141.8,428.7 148.4,429.9 C155.0,431.1 161.7,431.7 165.9,432.8 C170.2,433.9 172.7,435.1 173.9,436.5 C175.1,437.9 175.0,439.4 173.2,440.9 C171.4,442.4 167.1,444.0 163.0,445.3 C158.9,446.6 154.5,448.2 148.4,448.9 C142.3,449.6 133.8,450.0 126.5,449.6 C119.2,449.2 110.7,448.0 104.6,446.7 C98.5,445.4 94.8,444.2 90.0,442.0 C85.2,439.8 79.5,435.6 75.9,433.3 C72.3,431.0 70.8,430.0 68.3,428.0 C65.8,426.0 64.4,423.6 60.8,421.5 C57.2,419.4 51.5,417.3 46.9,415.1 C42.2,412.9 36.3,410.2 32.9,408.1 C29.5,406.0 27.8,404.1 26.4,402.2 C25.0,400.3 23.7,398.5 24.8,396.8 Z" fill="#f4f4f4" stroke="#383838" stroke-width="1.2"/>
<path d="M25.9,397.0 C26.8,395.8 29.4,393.8 32.9,393.0 C36.4,392.2 42.2,392.0 46.9,392.4 C51.5,392.8 57.2,394.4 60.8,395.6 C64.4,396.8 65.8,398.0 68.3,399.8 C70.8,401.6 73.2,403.9 75.9,406.2 C78.6,408.5 82.1,412.1 84.4,413.6 C86.8,415.1 86.6,414.3 90.0,415.3 C93.4,416.3 98.5,418.0 104.6,419.8 C110.7,421.6 119.2,424.5 126.5,426.3 C133.8,428.1 141.9,429.4 148.4,430.6 C154.9,431.8 161.4,432.5 165.5,433.6 C169.6,434.7 171.7,435.9 172.8,437.0 C173.9,438.1 173.6,438.9 172.0,440.0 C170.4,441.1 166.9,442.3 163.0,443.4 C159.1,444.4 154.5,445.7 148.4,446.3 C142.3,446.9 133.8,447.4 126.5,446.8 C119.2,446.2 110.7,444.4 104.6,443.0 C98.5,441.6 94.8,440.8 90.0,438.7 C85.2,436.6 79.5,432.6 75.9,430.1 C72.3,427.6 70.5,425.7 68.3,423.7 C66.1,421.7 65.2,420.1 63.0,418.3 C60.9,416.5 59.0,414.9 55.4,412.9 C51.8,410.9 46.1,408.6 41.5,406.5 C36.9,404.4 30.1,401.6 27.5,400.0 C24.9,398.4 25.0,398.2 25.9,397.0 Z" fill="#868686" stroke="#555" stroke-width="0.6"/>
<path d="M25.9,397.0 C26.4,396.1 29.4,393.8 32.9,393.0 C36.4,392.2 42.2,392.0 46.9,392.4 C51.5,392.8 57.2,394.4 60.8,395.6 C64.4,396.8 65.8,398.0 68.3,399.8 C70.8,401.6 73.2,403.9 75.9,406.2 C78.6,408.5 82.1,412.1 84.4,413.6 C86.8,415.1 86.6,414.3 90.0,415.3 C93.4,416.3 98.5,418.0 104.6,419.8 C110.7,421.6 119.2,424.5 126.5,426.3 C133.8,428.1 141.9,429.4 148.4,430.6 C154.9,431.8 162.2,432.8 165.5,433.6 C168.8,434.4 169.6,434.9 168.0,435.3 C166.4,435.7 162.6,436.2 155.7,436.0 C148.8,435.8 135.8,436.0 126.5,434.3 C117.2,432.6 107.8,429.1 100.0,426.0 C92.2,422.9 86.0,419.5 80.0,416.0 C74.0,412.5 69.3,407.8 64.0,405.0 C58.7,402.2 53.7,400.6 48.0,399.5 C42.3,398.4 33.7,398.9 30.0,398.5 C26.3,398.1 25.4,397.9 25.9,397.0 Z" fill="#5a5a5a"/>
<path d="M24.0,458.0 C24.7,457.2 26.0,454.2 28.0,453.0 C30.0,451.8 33.0,451.1 36.1,451.0 C39.2,450.9 43.2,451.4 46.8,452.4 C50.4,453.4 52.2,454.7 57.6,457.1 C63.0,459.5 71.3,463.2 79.0,467.0 C86.7,470.8 95.9,476.9 103.6,479.8 C111.3,482.7 115.7,482.7 125.1,484.5 C134.5,486.3 152.0,488.9 160.2,490.5 C168.4,492.1 171.6,492.8 174.2,494.0 C176.8,495.2 175.7,497.3 176.0,498.0 C174.2,499.8 169.0,506.1 165.0,509.0 C161.0,511.9 155.3,514.0 152.0,515.5 C148.7,517.0 146.2,517.8 145.0,518.3 C145.6,525.6 134.4,525.4 135.0,518.8 C133.8,518.8 130.0,518.9 128.0,519.0 C126.0,519.1 123.8,519.4 123.0,519.5 C123.6,526.3 111.9,526.9 112.5,517.5 C111.1,517.0 106.8,515.3 104.0,514.5 C101.2,513.7 97.3,512.8 96.0,512.5 C96.6,517.6 85.9,518.7 86.5,509.0 C85.6,508.2 82.4,505.2 81.0,504.0 C79.6,502.8 78.5,502.3 78.0,502.0 C78.6,506.7 69.9,507.6 70.5,499.0 C69.8,497.6 68.4,493.3 66.0,490.5 C63.6,487.7 59.7,484.4 56.0,482.0 C52.3,479.6 47.3,477.3 44.0,476.0 C40.7,474.7 37.3,474.3 36.0,474.0 C36.6,480.4 26.9,481.0 27.5,472.0 C27.1,471.0 25.6,468.3 25.0,466.0 C24.4,463.7 24.2,459.3 24.0,458.0 Z" fill="#fcfcfc" stroke="#4a4a4a" stroke-width="1.2" stroke-linejoin="round"/>
<path d="M26.0,458.0 C26.2,456.6 27.3,455.1 29.0,454.2 C30.7,453.2 33.1,452.4 36.1,452.3 C39.1,452.2 43.2,452.6 46.8,453.6 C50.4,454.6 52.2,455.8 57.6,458.2 C63.0,460.6 71.3,464.2 79.0,468.0 C86.7,471.8 95.9,478.1 103.6,481.0 C111.3,483.9 115.7,483.9 125.1,485.7 C134.5,487.5 152.3,490.1 160.2,491.6 C168.1,493.2 170.3,493.9 172.5,495.0 C174.7,496.1 174.0,496.7 173.5,498.0 C173.0,499.3 173.3,501.5 169.5,502.7 C165.7,503.9 160.1,504.2 150.8,505.0 C141.5,505.8 125.6,508.9 113.5,507.4 C101.4,505.8 88.9,500.8 78.4,495.7 C67.9,490.6 57.6,481.8 50.4,477.0 C43.2,472.2 38.7,469.4 35.0,467.0 C31.3,464.6 29.5,464.0 28.0,462.5 C26.5,461.0 25.8,459.4 26.0,458.0 Z" fill="#dedede" stroke="#808080" stroke-width="0.8"/>
<path d="M29.0,455.5 C30.3,455.2 34.0,453.6 37.0,453.5 C40.0,453.4 43.5,454.0 47.0,455.0 C50.5,456.0 52.7,457.1 58.0,459.5 C63.3,461.9 72.0,466.1 79.0,469.5 C86.0,472.9 93.2,477.2 100.0,480.0 C106.8,482.8 116.7,485.0 120.0,486.0" fill="none" stroke="#b9b9b9" stroke-width="4"/>
<path d="M40.0,467.0 C43.3,468.8 53.3,474.3 60.0,478.0 C66.7,481.7 72.5,485.8 80.0,489.0 C87.5,492.2 95.8,495.2 105.0,497.0 C114.2,498.8 125.0,499.5 135.0,500.0 C145.0,500.5 160.0,500.0 165.0,500.0" fill="none" stroke="#ebebeb" stroke-width="4"/>
<path d="M33.0,470.0 C36.7,471.5 47.5,475.2 55.0,479.0 C62.5,482.8 68.8,488.8 78.0,493.0 C87.2,497.2 99.7,501.8 110.0,504.0 C120.3,506.2 130.3,506.2 140.0,506.0 C149.7,505.8 163.3,503.5 168.0,503.0" fill="none" stroke="#9a9a9a" stroke-width="0.7"/>
<path d="M90,500 Q106.4,493.8 122.8,490.6" fill="none" stroke="#a0a0a0" stroke-width="1.3"/>
<path d="M94.8,502.7 Q114.7,496.3 134.5,492.9" fill="none" stroke="#a0a0a0" stroke-width="1.3"/>
<path d="M101.8,505 Q122.8,498.6 143.8,495.2" fill="none" stroke="#a0a0a0" stroke-width="1.3"/>
<path d="M111.1,506.9 Q133.3,500.8 155.5,497.6" fill="none" stroke="#a0a0a0" stroke-width="1.3"/>
<path d="M120.5,507.9 Q140.3,502.4 160.2,499.9" fill="none" stroke="#a0a0a0" stroke-width="1.3"/>
<path d="M26.6,430.6 C27.2,429.5 29.8,428.0 32.9,427.6 C36.0,427.2 40.9,427.2 45.4,428.0 C49.9,428.8 54.9,430.6 59.7,432.4 C64.5,434.2 69.0,436.8 74.0,438.7 C79.0,440.6 83.7,441.7 90.0,443.8 C96.3,445.9 104.6,449.0 111.9,451.1 C119.2,453.2 126.5,454.7 133.8,456.2 C141.1,457.7 149.4,458.6 155.7,459.9 C162.0,461.2 168.6,463.0 171.8,464.2 C175.0,465.4 174.8,465.9 174.7,467.2 C174.6,468.5 174.2,470.3 171.0,472.0 C167.8,473.7 161.9,476.0 155.7,477.2 C149.5,478.4 141.1,479.2 133.8,479.0 C126.5,478.8 119.2,477.8 111.9,476.2 C104.6,474.6 96.6,472.2 90.0,469.5 C83.4,466.8 77.9,463.2 72.2,460.1 C66.5,457.1 61.2,454.5 56.1,451.2 C51.0,447.9 46.3,443.3 41.8,440.5 C37.3,437.7 31.8,435.8 29.3,434.2 C26.8,432.6 26.0,431.7 26.6,430.6 Z" fill="#4fb6eb" stroke="#1a426e" stroke-width="1.5"/>
<path d="M27.5,430.6 C28.2,430.0 30.0,428.7 33.0,428.4 C36.0,428.1 40.9,428.0 45.4,428.8 C49.9,429.6 54.9,431.4 59.7,433.2 C64.5,435.0 69.0,437.6 74.0,439.5 C79.0,441.4 83.7,442.5 90.0,444.6 C96.3,446.7 104.6,449.8 111.9,451.9 C119.2,454.0 126.5,455.5 133.8,457.0 C141.1,458.5 149.6,459.4 155.7,460.7 C161.8,461.9 168.6,463.9 170.5,464.5 C172.4,465.1 170.6,464.4 167.4,464.6 C164.2,464.8 156.9,465.8 151.3,465.9 C145.7,466.0 140.4,465.8 133.8,465.2 C127.2,464.6 118.4,463.8 111.9,462.5 C105.4,461.2 99.5,459.4 95.0,457.5 C90.5,455.6 88.5,453.3 85.0,451.0 C81.5,448.7 77.8,445.7 74.0,443.5 C70.2,441.3 66.0,439.5 62.0,437.8 C58.0,436.1 54.2,434.4 50.0,433.2 C45.8,432.0 40.0,431.0 36.5,430.8 C33.0,430.6 30.5,431.8 29.0,431.8 C27.5,431.8 26.8,431.2 27.5,430.6 Z" fill="#1f7ecb"/>
<line x1="157" y1="384" x2="200.8" y2="354.8" stroke="#404040" stroke-width="1.1"/><path d="M205.8,351.5 L202.2,357.0 L199.4,352.7 Z" fill="#404040"/>
<line x1="174.5" y1="436" x2="199.9" y2="409.3" stroke="#404040" stroke-width="1.1"/><path d="M204,405 L201.7,411.1 L198.0,407.6 Z" fill="#404040"/>
<line x1="173.9" y1="466.6" x2="200.5" y2="452.7" stroke="#404040" stroke-width="1.1"/><path d="M205.8,449.9 L201.7,455.0 L199.3,450.4 Z" fill="#404040"/>
<line x1="174.8" y1="497.9" x2="198.0" y2="499.6" stroke="#404040" stroke-width="1.1"/><path d="M204,500 L197.8,502.2 L198.2,497.0 Z" fill="#404040"/>
<g font-size="17" fill="#404040"><text x="210.4" y="355.7">Upper</text><text x="210.4" y="396.3">Insole</text><text x="210.4" y="436.6">Pressure</text><text x="210.4" y="457.3">Sensor</text><text x="210.4" y="498.2">Midsole and</text><text x="210.4" y="518.2">Outsole</text></g>
<text x="165.5" y="553" font-size="19" fill="#1a1a1a" text-anchor="middle">(b)</text>
</svg>
</body></html>
